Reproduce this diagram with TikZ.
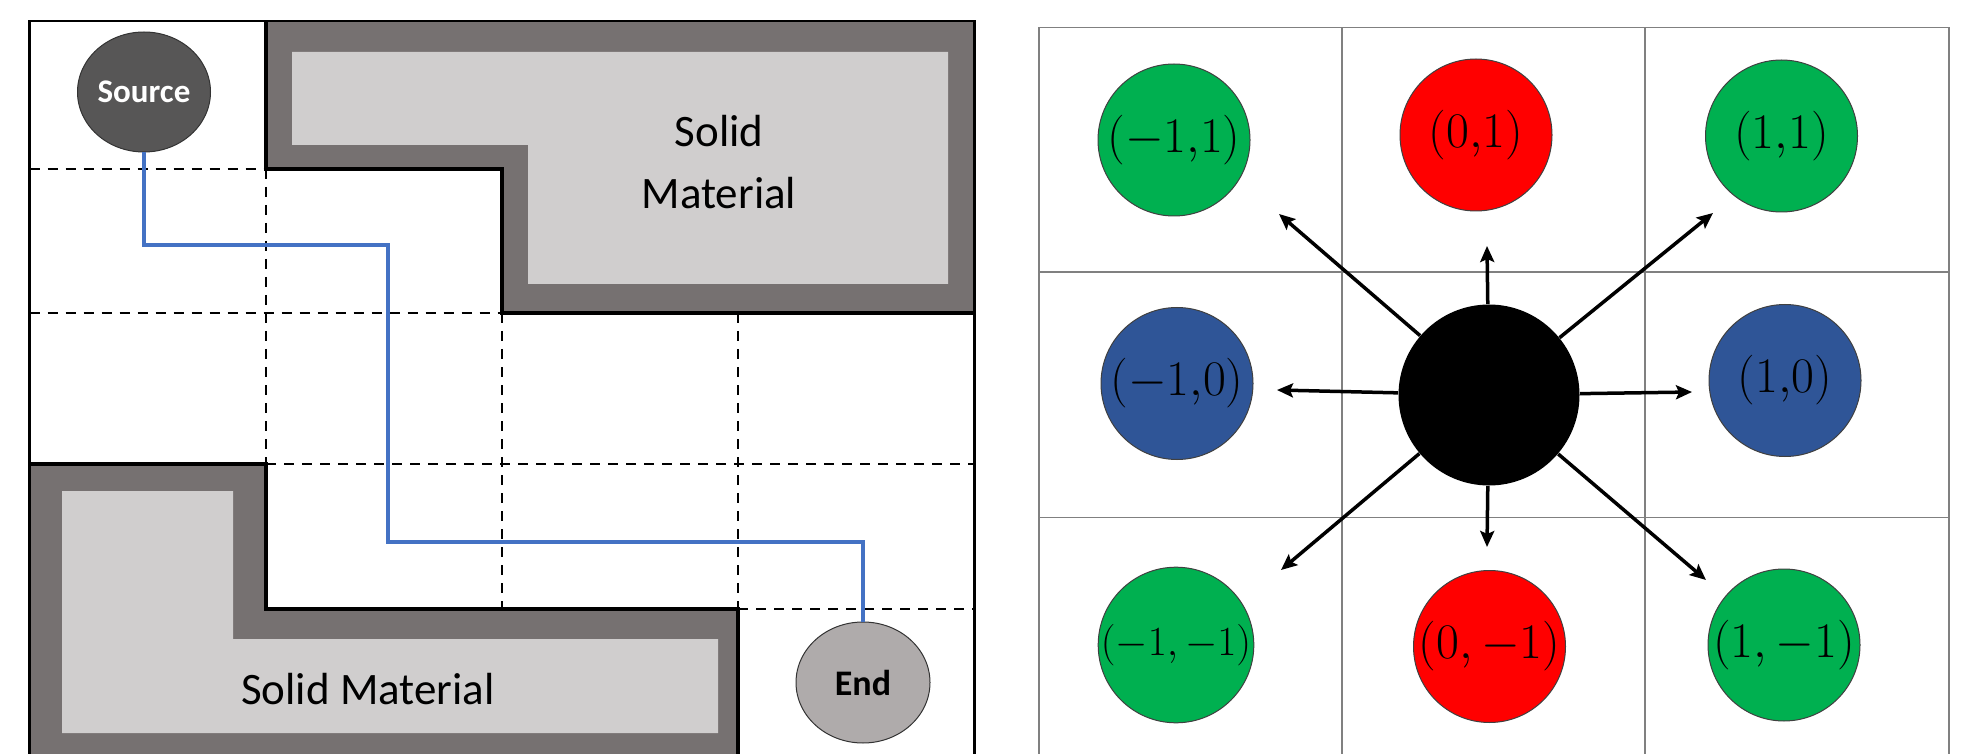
\documentclass[tikz,border=0pt]{standalone}
\usepackage{fontspec}
\newfontfamily\carlito{Carlito}
\usetikzlibrary{shapes.geometric,arrows.meta}
\definecolor{darkmat}{HTML}{767171}
\definecolor{lightmat}{HTML}{D0CECE}
\definecolor{srcfill}{HTML}{575656}
\definecolor{endfill}{HTML}{AFABAB}
\definecolor{pathblue}{HTML}{4472C4}
\definecolor{cgreen}{HTML}{00B050}
\definecolor{cred}{HTML}{FF0000}
\definecolor{cblue}{HTML}{2F5597}
\definecolor{gridgrey}{HTML}{808080}
\begin{document}
\begin{tikzpicture}[x=0.5pt,y=-0.5pt,
  dashln/.style={line width=1.3pt, dash pattern=on 5pt off 4pt},
  edgeln/.style={line width=1.7pt},
  boxln/.style={line width=1.2pt},
  matlabel/.style={font=\carlito\fontsize{22.5pt}{31pt}\selectfont, align=center},
  endpoint/.style={ellipse, draw=black!80, line width=0.5pt, inner sep=0pt,
    minimum width=67pt, minimum height=60.5pt},
  cell/.style={circle, draw=black!75, line width=0.5pt, inner sep=0pt, minimum size=76pt,
    font=\fontsize{23pt}{28pt}\selectfont},
  ray/.style={line width=1.75pt, -{Stealth[length=8pt,width=7pt,inset=1.5pt]}},
  gridln/.style={draw=gridgrey, line width=0.8pt}]
\useasboundingbox (0,0) rectangle (1987,754);
\clip (0,0) rectangle (1987,754);
\fill[white] (0,0) rectangle (1987,754);

% ---------- left panel ----------
% solid material (top right)
\fill[darkmat] (266,21) -- (974.5,21) -- (974.5,313) -- (502,313) -- (502,169) -- (266,169) -- cycle;
\fill[lightmat] (292,52) -- (948,52) -- (948,284) -- (528,284) -- (528,145) -- (292,145) -- cycle;
\draw[edgeln] (266,21) -- (266,169) -- (502,169) -- (502,313) -- (974.5,313);
% solid material (bottom left)
\fill[darkmat] (29.5,464) -- (266,464) -- (266,609) -- (738,609) -- (738,760) -- (29.5,760) -- cycle;
\fill[lightmat] (62,491) -- (233,491) -- (233,639) -- (718,639) -- (718,733) -- (62,733) -- cycle;
\draw[edgeln] (29.5,464) -- (266,464) -- (266,609) -- (738,609) -- (738,760);
% dashed grid
\draw[dashln] (29.5,169) -- (266,169);
\draw[dashln] (266,169) -- (266,464);
\draw[dashln] (29.5,313) -- (502,313);
\draw[dashln] (502,313) -- (502,609);
\draw[dashln] (738,313) -- (738,609);
\draw[dashln] (266,464) -- (974.5,464);
\draw[dashln] (738,609) -- (974.5,609);
% outer box
\draw[boxln] (29.5,760) -- (29.5,21) -- (974.5,21) -- (974.5,760);
% labels
\node[matlabel] (topmat) at (719,162) {Solid\\Material};
\node[matlabel] (botmat) at (368,689) {Solid Material};
% source / end
\node[endpoint, fill=srcfill, minimum width=66.5pt, minimum height=60pt,
  font=\carlito\bfseries\fontsize{16.5pt}{20pt}\selectfont, text=white] (source) at (144,92) {Source};
\node[endpoint, fill=endfill,
  font=\carlito\bfseries\fontsize{18pt}{22pt}\selectfont] (end) at (863,682.5) {End};
\coordinate (p1) at (388,245.5);
\coordinate (p2) at (863,542);
\draw[pathblue, line width=2pt] (source.south) |- (p1) |- (p2) -| (end.north);

% ---------- right panel ----------
\foreach \gx in {1039,1342,1645,1949} \draw[gridln] (\gx,27.5) -- (\gx,760);
\foreach \gy in {27.5,272,517.5} \draw[gridln] (1039,\gy) -- (1949,\gy);

\node[cell, fill=cgreen] (mm1p1) at (1174,140) {$(-1{,}1)$};
\node[cell, fill=cred]   (m0p1)  at (1476,135) {$(0{,}1)$};
\node[cell, fill=cgreen] (mp1p1) at (1781.5,136) {$(1{,}1)$};
\node[cell, fill=cblue]  (mm1z)  at (1177,383.5) {$(-1{,}0)$};
\node[cell, fill=cblue]  (mp1z)  at (1785,380.5) {$(1{,}0)$};
\node[cell, fill=cgreen, font=\fontsize{21.5pt}{26pt}\selectfont] (mm1m1) at (1176,645) {$(-1,-1)$};
\node[cell, fill=cred]   (m0m1)  at (1489.5,646.5) {$(0,-1)$};
\node[cell, fill=cgreen] (mp1m1) at (1784,645) {$(1,-1)$};
\node[circle, fill=black, inner sep=0pt, minimum size=90.5pt] (ctr) at (1489,395) {};

\coordinate (tu) at (1487,246);
\coordinate (td) at (1487,547);
\coordinate (tl) at (1277,390);
\coordinate (tr) at (1692,392);
\coordinate (tul) at (1279,214);
\coordinate (tur) at (1713,213);
\coordinate (tdl) at (1281,570);
\coordinate (tdr) at (1706,580);
\foreach \t in {tu,td,tl,tr,tul,tur,tdl,tdr} \draw[ray] (ctr) -- (\t);
\end{tikzpicture}
\end{document}
